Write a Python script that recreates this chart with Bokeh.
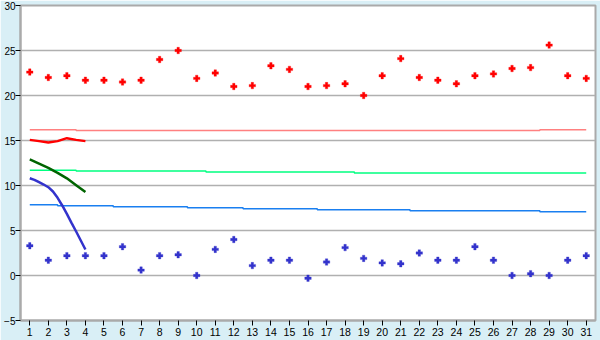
from bokeh.plotting import figure
from bokeh.models import Range1d, FixedTicker
from bokeh.embed import file_html
from bokeh.resources import INLINE

days = list(range(1, 32))

# daily maxima (red) and minima (blue) markers
tmax = [22.6, 22.0, 22.2, 21.7, 21.7, 21.5, 21.7, 24.0, 25.0, 21.9,
        22.5, 21.0, 21.1, 23.3, 22.9, 21.0, 21.1, 21.3, 20.0, 22.2,
        24.1, 22.0, 21.7, 21.3, 22.2, 22.4, 23.0, 23.1, 25.6, 22.2, 21.9]
tmin = [3.3, 1.7, 2.2, 2.2, 2.2, 3.2, 0.6, 2.2, 2.3, 0.0,
        2.9, 4.0, 1.1, 1.7, 1.7, -0.3, 1.5, 3.1, 1.9, 1.4,
        1.3, 2.5, 1.7, 1.7, 3.2, 1.7, 0.0, 0.2, 0.0, 1.7, 2.2]

# normals (step lines)
norm_hi = [16.2, 16.2, 16.2] + [16.1] * 25 + [16.2, 16.2, 16.2]
norm_mid = [11.7, 11.7, 11.7] + [11.6] * 7 + [11.5] * 8 + [11.4] * 13
norm_lo = [7.85, 7.85] + [7.74] * 3 + [7.63] * 4 + [7.52] * 3 + [7.41] * 4 + \
          [7.3] * 5 + [7.19] * 7 + [7.07] * 3

# short curves for the first days
half_days = [1, 1.5, 2, 2.5, 3, 3.5, 4]
red_curve = [15.07, 14.93, 14.78, 14.93, 15.26, 15.07, 14.93]
green_curve = [12.9, 12.44, 11.96, 11.41, 10.8, 10.04, 9.28]
quarter_days = [1, 1.25, 1.5, 1.75, 2, 2.25, 2.5, 2.75, 3, 3.25, 3.5, 3.75, 4]
blue_curve = [10.81, 10.63, 10.37, 10.11, 9.81, 9.33, 8.63, 7.78, 6.85, 5.85, 4.89, 3.89, 2.89]

y_ticks = [-5, 0, 5, 10, 15, 20, 25, 30]

p = figure(width=600, height=340, output_backend="svg", toolbar_location=None,
           x_range=Range1d(0.5, 31.5), y_range=Range1d(-5, 30),
           min_border_left=20, min_border_right=5, min_border_top=5, min_border_bottom=20)
p.background_fill_color = "white"
p.border_fill_color = "#d9eff6"
p.outline_line_color = "#aaaaaa"
p.outline_line_width = 2

p.xgrid.visible = False
p.ygrid.ticker = FixedTicker(ticks=y_ticks)
p.ygrid.grid_line_color = "#b0b0b0"
p.ygrid.grid_line_width = 1.5

for ax, ticks in ((p.xaxis, days), (p.yaxis, y_ticks)):
    ax.ticker = FixedTicker(ticks=ticks)
    ax.axis_line_color = "#aaaaaa"
    ax.axis_line_width = 2
    ax.major_tick_line_color = "black"
    ax.major_tick_in = 0
    ax.major_tick_out = 5
    ax.minor_tick_line_color = None
    ax.major_label_text_font = "Liberation Sans"
    ax.major_label_text_font_size = "10.5px"
    ax.major_label_text_color = "black"
    ax.major_label_standoff = 1
p.yaxis.major_label_text_font_size = "10px"
p.yaxis.major_label_standoff = 0
p.xaxis.major_label_standoff = 2
p.yaxis.major_label_overrides = {-5: "\u22125"}

p.step(days, norm_hi, mode="center", line_color="#ff8080", line_width=1.5)
p.step(days, norm_mid, mode="center", line_color="#00ff80", line_width=1.5)
p.step(days, norm_lo, mode="center", line_color="#1a7ff0", line_width=1.5)

p.line(half_days, red_curve, line_color="#ff0000", line_width=2.5)
p.line(half_days, green_curve, line_color="#006400", line_width=2.5)
p.line(quarter_days, blue_curve, line_color="#3333cc", line_width=2.5)

p.scatter(days, tmax, marker="plus", size=6.5, fill_color="#ff0000", line_color="#ff0000", line_width=0.3)
p.scatter(days, tmin, marker="plus", size=6.5, fill_color="#3333cc", line_color="#3333cc", line_width=0.3)

open("out.html", "w").write(file_html(p, INLINE))
